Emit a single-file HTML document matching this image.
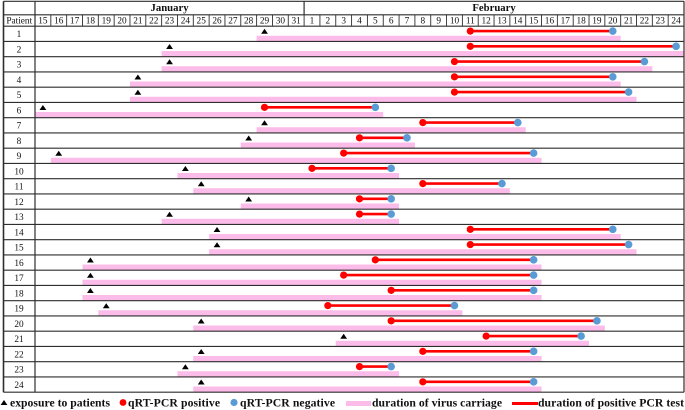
<!DOCTYPE html>
<html lang="en">
<head>
<meta charset="utf-8">
<title>Patient timeline of virus carriage</title>
<style>
html,body{margin:0;padding:0;background:#fff;}
body{width:685px;height:410px;overflow:hidden;}
svg{display:block;font-family:"Liberation Serif",serif;}
text{fill:#111;}
</style>
</head>
<body>
<svg id="chart" xmlns="http://www.w3.org/2000/svg" width="685" height="410" viewBox="0 0 685 410"></svg>
<script>
// Days are numbered from January 1 (January 31 = 31, February 1 = 32).
const patients = ['1','2','3','4','5','6','7','8','9','10','11','12','13','14','15','16','17','18','19','20','21','22','23','24'];
const exposureDays = [29,23,23,21,21,15,29,28,16,24,25,28,23,26,26,18,18,18,19,25,34,25,24,25];
const positiveDays = [42,42,41,41,41,29,39,35,34,32,39,35,35,42,42,36,34,37,33,37,43,39,35,39];
const negativeDays = [51,55,53,51,52,36,45,38,46,37,44,37,37,51,52,46,46,46,41,50,49,46,37,46];
const januaryLabels = ['15','16','17','18','19','20','21','22','23','24','25','26','27','28','29','30','31'];
const februaryLabels = ['1','2','3','4','5','6','7','8','9','10','11','12','13','14','15','16','17','18','19','20','21','22','23','24'];

const svg = document.getElementById('chart');
const NS = 'http://www.w3.org/2000/svg';
const firstDay = 15;
const plotLeft = 35, plotRight = 684, frameLeft = 3.5;
const dayCount = januaryLabels.length + februaryLabels.length;
const dayWidth = (plotRight - plotLeft) / dayCount;
const rowsTop = 26.2, rowHeight = 15.25;
const dayLeft = d => plotLeft + (d - firstDay) * dayWidth;
const dayCenter = d => dayLeft(d) + dayWidth / 2;
const rowTop = i => rowsTop + i * rowHeight;
const LINE = '#2e2e2e';

function make(tag, attrs, text) {
  const el = document.createElementNS(NS, tag);
  for (const k in attrs) el.setAttribute(k, attrs[k]);
  if (text !== undefined) el.textContent = text;
  return el;
}
function triangle(cx, cy) {
  return make('polygon', {points: (cx-3.4)+','+(cy+2.5)+' '+cx+','+(cy-2.5)+' '+(cx+3.4)+','+(cy+2.5), fill: '#000'});
}

// Month band
const janEnd = dayLeft(firstDay + januaryLabels.length);
const janText = make('text', {x: (plotLeft+janEnd)/2, y: 11.2, 'text-anchor': 'middle', 'font-size': 10.7, 'font-weight': 'bold'}, 'January');


svg.appendChild(janText);
const febText = make('text', {x: (janEnd+plotRight)/2, y: 11.2, 'text-anchor': 'middle', 'font-size': 10.7, 'font-weight': 'bold'}, 'February');


svg.appendChild(febText);

const patientHead = make('text', {x: (frameLeft+plotLeft)/2, y: 23.6, 'text-anchor': 'middle', 'font-size': 9.3}, 'Patient');


svg.appendChild(patientHead);

// Day header cells
januaryLabels.concat(februaryLabels).forEach((label, i) => {
  const d = firstDay + i;
  const t = make('text', {x: dayCenter(d), y: 23.6, 'text-anchor': 'middle', 'font-size': 9.3}, label);
  
  
  svg.appendChild(t);
  const tick = make('line', {x1: dayLeft(d), x2: dayLeft(d), y1: 14.8, y2: rowsTop, stroke: LINE, 'stroke-width': 0.9});
  
  
  svg.appendChild(tick);
});

// Patient rows
patients.forEach((p, i) => {
  const top = rowTop(i);
  const bottom = top + rowHeight;
  const mid = top + 4.9;

  const label = make('text', {x: 19, y: top + 10.9, 'text-anchor': 'middle', 'font-size': 9.3, fill: '#222'}, p);
  
  
  svg.appendChild(label);

  const carriage = make('rect', {
    x: dayLeft(exposureDays[i]),
    y: bottom - 5.7,
    width: dayLeft(negativeDays[i] + 1) - dayLeft(exposureDays[i]),
    height: 5.6,
    fill: '#fbbcea'
  });
  
  
  svg.appendChild(carriage);

  const pcr = make('line', {x1: dayCenter(positiveDays[i]), x2: dayCenter(negativeDays[i]), y1: mid, y2: mid, stroke: '#fe0000', 'stroke-width': 2.6});
  
  
  svg.appendChild(pcr);

  const exposure = triangle(dayCenter(exposureDays[i]), top + 5);
  
  
  svg.appendChild(exposure);

  const pos = make('circle', {cx: dayCenter(positiveDays[i]), cy: mid, r: 3.6, fill: '#fe0000'});
  
  
  svg.appendChild(pos);

  const neg = make('circle', {cx: dayCenter(negativeDays[i]), cy: mid, r: 3.8, fill: '#5b9bd5'});
  
  
  svg.appendChild(neg);

  const rule = make('line', {x1: frameLeft, x2: plotRight, y1: bottom, y2: bottom, stroke: LINE, 'stroke-width': 1.2});
  
  
  svg.appendChild(rule);
});

// Table frame
const frame = [
  [frameLeft, 1.3, plotRight, 1.3, 'table-top-border', 1.2],
  [frameLeft, 14.8, plotRight, 14.8, 'month-row-divider', 1.2],
  [frameLeft, rowsTop, plotRight, rowsTop, 'header-bottom-border', 1.2],
  [frameLeft, 1.3, frameLeft, rowTop(patients.length), 'table-left-border', 1.6],
  [plotLeft, 1.3, plotLeft, rowTop(patients.length), 'patient-column-border', 1.2],
  [plotRight, 1.3, plotRight, rowTop(patients.length), 'table-right-border', 1.2],
  [janEnd, 1.3, janEnd, 14.8, 'month-divider', 1.2]
];
frame.forEach(f => {
  const l = make('line', {x1: f[0], y1: f[1], x2: f[2], y2: f[3], stroke: LINE, 'stroke-width': f[5]});
  
  
  svg.appendChild(l);
});

// Legend
const legendY = 406.5, legendMark = 402.5;
const legendExposure = triangle(4, legendMark);


svg.appendChild(legendExposure);
const legendPos = make('circle', {cx: 123, cy: legendMark, r: 3.4, fill: '#fe0000'});


svg.appendChild(legendPos);
const legendNeg = make('circle', {cx: 234, cy: legendMark, r: 3.6, fill: '#5b9bd5'});


svg.appendChild(legendNeg);
const legendBar = make('rect', {x: 346, y: 401, width: 25, height: 5, fill: '#fbbcea'});


svg.appendChild(legendBar);
const legendLine = make('rect', {x: 512, y: 402, width: 26, height: 3, fill: '#fe0000'});


svg.appendChild(legendLine);

const legendText = [
  [10, 100, 'exposure to patients', 'legend-exposure-label'],
  [128, 92, 'qRT-PCR positive', 'legend-positive-label'],
  [240, 95, 'qRT-PCR negative', 'legend-negative-label'],
  [372, 130, 'duration of virus carriage', 'legend-carriage-label'],
  [538, 146, 'duration of positive PCR test', 'legend-pcr-label']
];
legendText.forEach(t => {
  const el = make('text', {x: t[0], y: legendY, 'font-size': 11.7, 'font-weight': 'bold', textLength: t[1], lengthAdjust: 'spacing'}, t[2]);
  
  
  svg.appendChild(el);
});
</script>
</body>
</html>
